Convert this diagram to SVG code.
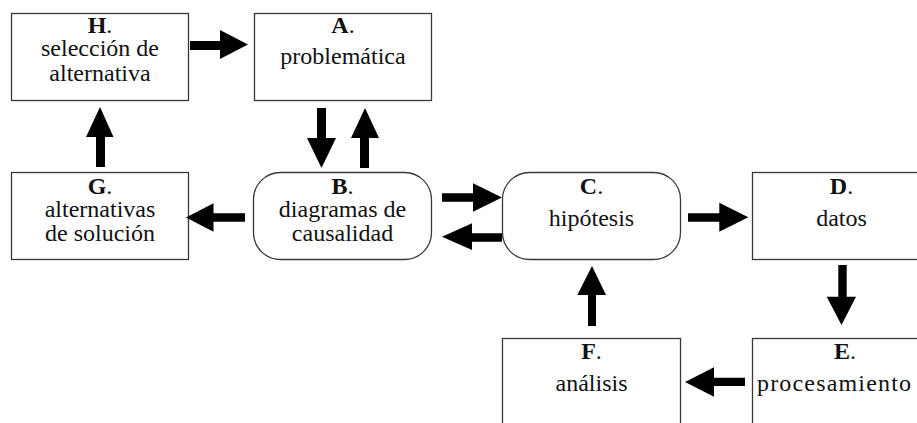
<svg xmlns="http://www.w3.org/2000/svg" width="917" height="423" viewBox="0 0 917 423">
<style>
.box{fill:#fff;stroke:#3a3a3a;stroke-width:1.3}
.arr{fill:#000}
</style>
<rect width="917" height="423" fill="#fff"/>
<g font-family="Liberation Serif" font-size="24" fill="#111" text-anchor="middle">
<g id="H">
<rect class="box" x="11.5" y="13.5" width="177" height="87"/>
<text x="100" y="33"><tspan font-weight="bold">H</tspan>.</text>
<text x="100" y="56">selección de</text>
<text x="100" y="80.5">alternativa</text>
</g>
<g id="A">
<rect class="box" x="254.5" y="13.5" width="177" height="87"/>
<text x="343" y="33"><tspan font-weight="bold">A</tspan>.</text>
<text x="343" y="64">problemática</text>
</g>
<g id="G">
<rect class="box" x="11.5" y="172.5" width="177" height="87"/>
<text x="100" y="194"><tspan font-weight="bold">G</tspan>.</text>
<text x="100" y="217">alternativas</text>
<text x="100" y="241">de solución</text>
</g>
<g id="B">
<rect class="box" x="253.5" y="172.5" width="178" height="87" rx="27" ry="27"/>
<text x="342.5" y="194"><tspan font-weight="bold">B</tspan>.</text>
<text x="342.5" y="217">diagramas de</text>
<text x="342.5" y="241">causalidad</text>
</g>
<g id="C">
<rect class="box" x="502.5" y="172.5" width="178" height="87" rx="27" ry="27"/>
<text x="591.5" y="194"><tspan font-weight="bold">C</tspan>.</text>
<text x="591.5" y="226">hipótesis</text>
</g>
<g id="D">
<rect class="box" x="752.5" y="172.5" width="178" height="87"/>
<text x="841.5" y="194"><tspan font-weight="bold">D</tspan>.</text>
<text x="841.5" y="226">datos</text>
</g>
<g id="F">
<rect class="box" x="502.5" y="338.5" width="178" height="87"/>
<text x="591.5" y="359"><tspan font-weight="bold">F</tspan>.</text>
<text x="591.5" y="391">análisis</text>
</g>
<g id="E">
<rect class="box" x="752.5" y="338.5" width="178" height="87"/>
<text x="845" y="359"><tspan font-weight="bold">E</tspan>.</text>
<text x="757" y="391" text-anchor="start" textLength="154" lengthAdjust="spacing">procesamiento</text>
</g>
</g>
<g id="connectors" class="arr">
<polygon points="190,41 220,41 220,30 248,44.5 220,59 220,50 190,50"/>
<polygon points="317,108 326,108 326,138 336,138 321.5,168 307,138 317,138"/>
<polygon points="365,108 379,138 369,138 369,168 360,168 360,138 351,138"/>
<polygon points="100,107 113.5,137 105,137 105,167 96,167 96,137 86,137"/>
<polygon points="186,217.5 213.5,203.3 213.5,213.3 245,213.3 245,221.7 213.5,221.7 213.5,231.7"/>
<polygon points="442,193.3 473,193.3 473,183.3 502,197.5 473,211.7 473,201.7 442,201.7"/>
<polygon points="442,236.7 472,223.3 472,233.3 502,233.3 502,241.7 472,241.7 472,250"/>
<polygon points="688,213.3 719.3,213.3 719.3,202.7 748.3,217.2 719.3,231.7 719.3,221.7 688,221.7"/>
<polygon points="838.3,265 846.7,265 846.7,296.7 856,296.7 841.5,325 826.7,296.7 838.3,296.7"/>
<polygon points="592,266 606,295 596,295 596,326 588,326 588,295 577.3,295"/>
<polygon points="685,382 714,367.3 714,377.7 745,377.7 745,386 714,386 714,396.7"/>
</g>
</svg>
